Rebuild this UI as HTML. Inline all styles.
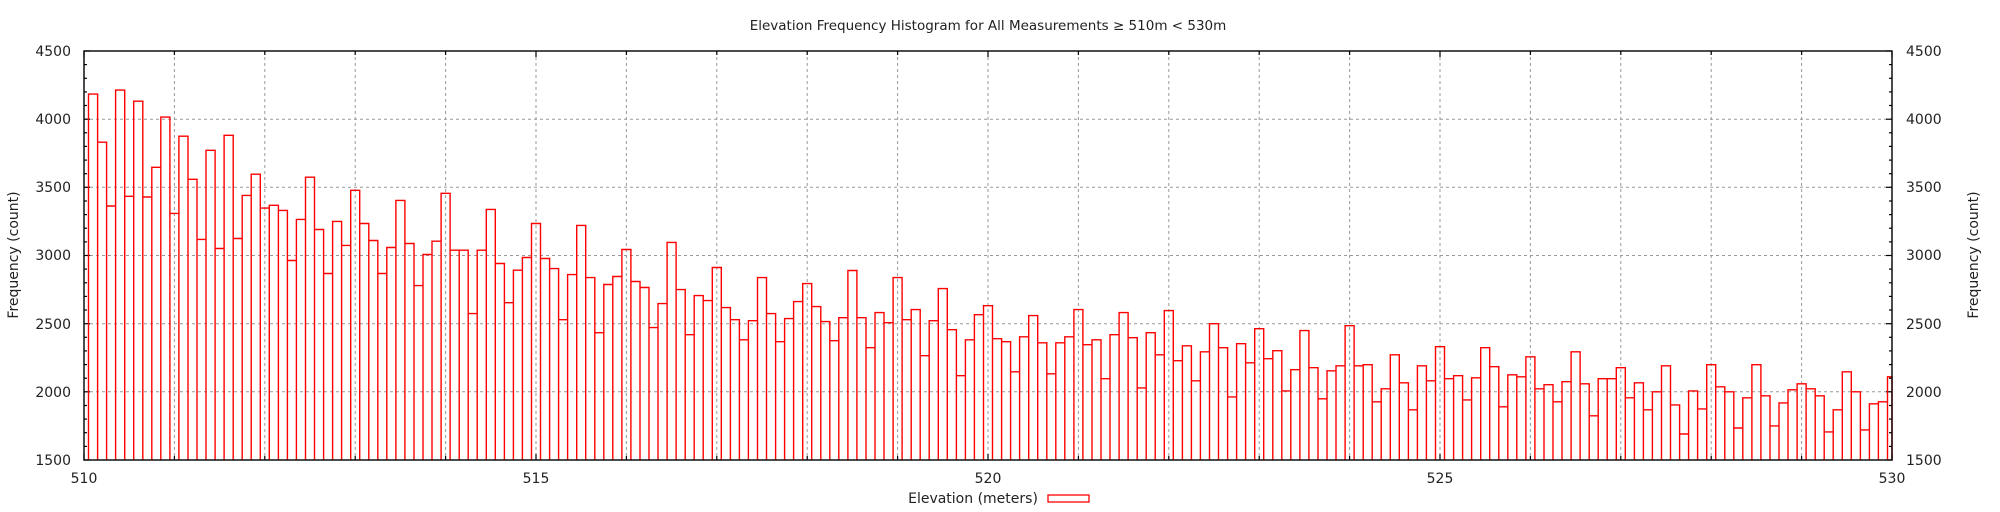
<!DOCTYPE html>
<html><head><meta charset="utf-8">
<style>
html,body{margin:0;padding:0;background:#fff;}
svg{display:block;}
text{font-family:"DejaVu Sans","Liberation Sans",sans-serif;fill:#222;}
</style></head>
<body>
<svg id="s" width="2000" height="512" viewBox="0 0 2000 512" xmlns="http://www.w3.org/2000/svg">
<rect width="2000" height="512" fill="#fff"/>
<g id="grid" stroke="#999" stroke-width="1" stroke-dasharray="3,3"></g>
<g id="ticks" stroke="#000" stroke-width="1.2"></g>
<path id="bars" fill="none" stroke="#f00" stroke-width="1.4"/>
<rect x="84" y="51" width="1808" height="409" fill="none" stroke="#000" stroke-width="1.4"/>
<text x="988" y="30" font-size="13.5" text-anchor="middle">Elevation Frequency Histogram for All Measurements ≥ 510m &lt; 530m</text>
<g font-size="14" text-anchor="end">
<text x="71" y="56">4500</text><text x="71" y="124">4000</text><text x="71" y="192">3500</text>
<text x="71" y="260">3000</text><text x="71" y="329">2500</text><text x="71" y="397">2000</text><text x="71" y="465">1500</text>
</g>
<g font-size="14" text-anchor="start">
<text x="1906" y="56">4500</text><text x="1906" y="124">4000</text><text x="1906" y="192">3500</text>
<text x="1906" y="260">3000</text><text x="1906" y="329">2500</text><text x="1906" y="397">2000</text><text x="1906" y="465">1500</text>
</g>
<g font-size="14" text-anchor="middle">
<text x="84" y="483">510</text><text x="536" y="483">515</text><text x="988" y="483">520</text>
<text x="1440" y="483">525</text><text x="1892" y="483">530</text>
<text x="973" y="503">Elevation (meters)</text>
</g>
<rect x="1048" y="495" width="41" height="7" fill="none" stroke="#f00" stroke-width="1.3"/>
<text font-size="14" text-anchor="middle" transform="translate(18,255) rotate(-90)">Frequency (count)</text>
<text font-size="14" text-anchor="middle" transform="translate(1978,255) rotate(-90)">Frequency (count)</text>
</svg>
<script>
var v=[4184,3831,3363,4213,3434,4132,3429,3647,4015,3309,3875,3559,3118,3772,3051,3882,3125,3441,3596,3348,3368,3331,2963,3265,3574,
3191,2868,3250,3074,3478,3235,3110,2868,3059,3404,3088,2779,3007,3105,3456,3039,3039,2574,3039,3338,2941,2654,2892,2985,3235,
2978,2904,2529,2860,3221,2838,2434,2787,2846,3044,2809,2765,2471,2647,3096,2750,2419,2706,2669,2912,2618,2529,2382,2522,2838,
2574,2368,2537,2662,2794,2625,2515,2375,2544,2890,2544,2324,2581,2507,2838,2529,2603,2265,2522,2757,2456,2118,2382,2566,2632,
2390,2368,2147,2404,2559,2360,2132,2360,2404,2603,2346,2382,2096,2419,2581,2397,2029,2434,2272,2596,2228,2338,2081,2294,2500,
2324,1963,2353,2213,2463,2243,2302,2007,2162,2449,2177,1949,2154,2191,2485,2191,2199,1927,2022,2272,2066,1868,2191,2081,2331,
2096,2118,1941,2103,2324,2184,1890,2125,2110,2257,2022,2052,1927,2074,2294,2059,1824,2096,2096,2177,1956,2066,1868,2000,2191,
1904,1691,2007,1875,2199,2037,2000,1735,1956,2199,1971,1750,1919,2015,2059,2022,1971,1706,1868,2147,2000,1721,1912,1927,2110];
var L=84,R=1892,T=51,B=460,pw=(R-L)/200,sy=(B-T)/3000;
function Y(c){return B-(c-1500)*sy;}
var d="";
for(var k=1;k<=200;k++){var x0=L+pw*(k-0.5),x1=Math.min(R,x0+pw),y=Y(v[k-1]).toFixed(1);
d+="M"+x0.toFixed(1)+","+B+"V"+y+"H"+x1.toFixed(1)+"V"+B;}
document.getElementById("bars").setAttribute("d",d);
var g="",t="";
for(var i=1;i<20;i++){var x=(L+i*(R-L)/20).toFixed(1);g+='<line x1="'+x+'" y1="'+T+'" x2="'+x+'" y2="'+B+'"/>';}
for(var c=2000;c<=4000;c+=500){var y=Y(c).toFixed(1);g+='<line x1="'+L+'" y1="'+y+'" x2="'+R+'" y2="'+y+'"/>';}
document.getElementById("grid").innerHTML=g;
for(var i=0;i<=20;i++){var x=(L+i*(R-L)/20).toFixed(1);var len=(i%5==0)?6:4;
t+='<line x1="'+x+'" y1="'+B+'" x2="'+x+'" y2="'+(B-len)+'"/><line x1="'+x+'" y1="'+T+'" x2="'+x+'" y2="'+(T+len)+'"/>';}
for(var c=1500;c<=4500;c+=100){var y=Y(c).toFixed(1);var len=(c%500==0)?6:3;
t+='<line x1="'+L+'" y1="'+y+'" x2="'+(L+len)+'" y2="'+y+'"/><line x1="'+R+'" y1="'+y+'" x2="'+(R-len)+'" y2="'+y+'"/>';}
document.getElementById("ticks").innerHTML=t;
</script>
</body></html>
